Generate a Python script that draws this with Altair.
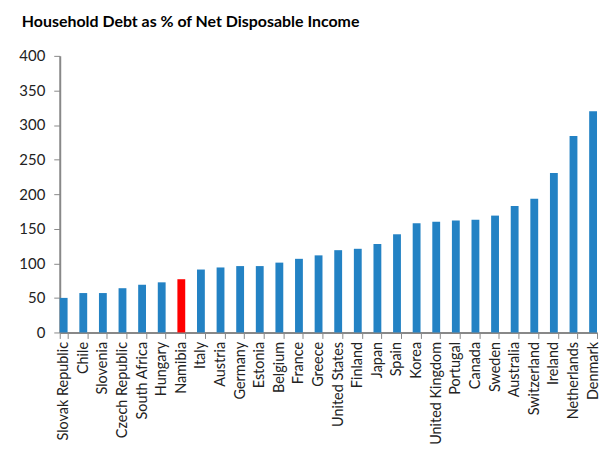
import altair as alt
import pandas as pd

countries = ["Slovak Republic", "Chile", "Slovenia", "Czech Republic", "South Africa",
             "Hungary", "Namibia", "Italy", "Austria", "Germany", "Estonia", "Belgium",
             "France", "Greece", "United States", "Finland", "Japan", "Spain", "Korea",
             "United Kingdom", "Portugal", "Canada", "Sweden", "Australia", "Switzerland",
             "Ireland", "Netherlands", "Denmark"]
values = [50, 57, 57, 64, 69, 72.5, 77, 91, 94, 96, 96, 101, 106.5, 111.5, 119, 121,
          128, 142, 158, 160, 162, 163, 169, 183, 193.5, 230.5, 284, 320]
highlight = "Namibia"

df = pd.DataFrame({"country": countries, "value": values})
df["hl"] = df["country"].eq(highlight).map({True: "yes", False: "no"})

chart = alt.Chart(df).mark_bar().encode(
    x=alt.X("country:N", sort=countries, title=None,
            scale=alt.Scale(paddingInner=0.6, paddingOuter=0),
            axis=alt.Axis(labelAngle=-90, labelFont="Lato", labelFontSize=14.5,
                          labelColor="#222222", tickBand="extent", tickColor="#888888",
                          tickSize=6, domainColor="#888888", domainWidth=2,
                          labelPadding=3)),
    y=alt.Y("value:Q", title=None,
            scale=alt.Scale(domain=[0, 400]),
            axis=alt.Axis(values=list(range(0, 401, 50)), grid=False,
                          labelFont="Lato", labelFontSize=15, labelColor="#222222",
                          tickColor="#888888", tickSize=6, domainColor="#888888",
                          domainWidth=2, labelPadding=9)),
    color=alt.Color("hl:N", scale=alt.Scale(domain=["no", "yes"],
                                            range=["#2382C4", "#FF0000"]), legend=None),
).properties(
    width=540, height=278,
    padding={"left": 10, "top": 5, "right": 0, "bottom": 0},
    title=alt.TitleParams("Household Debt as % of Net Disposable Income",
                          anchor="start", frame="bounds", font="Lato", fontSize=16,
                          fontWeight="bold", color="#000000", offset=19, dx=3),
).configure_view(stroke=None)

chart.save("out.html", embed_options={"renderer": "svg", "actions": False})
